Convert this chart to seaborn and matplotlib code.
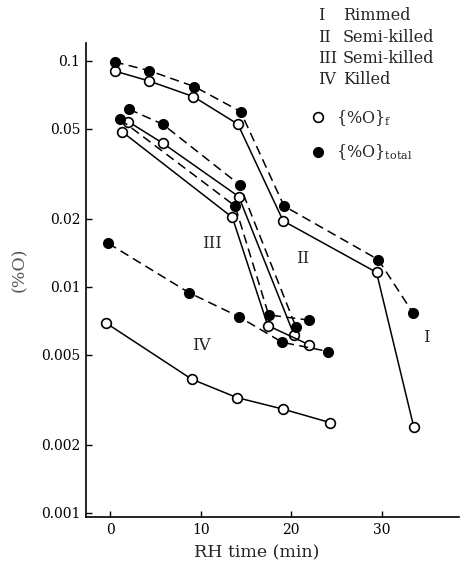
import matplotlib
matplotlib.use("Agg")
import matplotlib.pyplot as plt
import numpy as np
import pandas as pd
import seaborn as sns
from matplotlib.lines import Line2D

# ---------------- data ----------------
I_f_t   = [0.6, 4.3, 9.2, 14.1, 19.1, 29.4, 33.5]
I_f     = [0.090, 0.0815, 0.0695, 0.0525, 0.0196, 0.0116, 0.00241]
I_tot_t = [0.5, 4.3, 9.3, 14.4, 19.2, 29.6, 33.4]
I_tot   = [0.099, 0.0906, 0.077, 0.0597, 0.0228, 0.0132, 0.0077]

II_f_t   = [2.0, 5.8, 14.2, 20.3]
II_f     = [0.0539, 0.0433, 0.0251, 0.00614]
II_tot_t = [2.1, 5.8, 14.3, 20.5]
II_tot   = [0.0611, 0.0525, 0.0283, 0.00667]

III_f_t   = [1.3, 13.5, 17.4, 22.0]
III_f     = [0.0487, 0.0203, 0.00675, 0.00554]
III_tot_t = [1.1, 13.8, 17.5, 21.9]
III_tot   = [0.0552, 0.0228, 0.00752, 0.00714]

IV_f_t   = [-0.4, 9.0, 14.0, 19.1, 24.3]
IV_f     = [0.00691, 0.00391, 0.00324, 0.00288, 0.00251]
IV_tot_t = [-0.2, 8.7, 14.2, 19.0, 24.1]
IV_tot   = [0.0156, 0.00944, 0.00739, 0.00569, 0.00518]

x_ticks = [0, 10, 20, 30]
y_ticks = [0.001, 0.002, 0.005, 0.01, 0.02, 0.05, 0.1]
y_tick_labels = ["0.001", "0.002", "0.005", "0.01", "0.02", "0.05", "0.1"]

curve_labels = ["I", "II", "III", "IV"]
curve_label_t = [34.9, 21.3, 11.3, 10.1]
curve_label_v = [0.0060, 0.0133, 0.0155, 0.0055]

legend_numerals = ["I", "II", "III", "IV"]
legend_names = ["Rimmed", "Semi-killed", "Semi-killed", "Killed"]

# ---------------- style ----------------
sns.set_theme(style="ticks")
plt.rcParams["font.family"] = ["DejaVu Serif"]
plt.rcParams["mathtext.fontset"] = "dejavuserif"

W, H = 461, 566
fig = plt.figure(figsize=(W / 100, H / 100), dpi=100)
ax = fig.add_axes([86 / W, 1 - 517 / H, (459 - 86) / W, (517 - 43) / H])

series = [
    (I_f_t, I_f, "open"), (I_tot_t, I_tot, "filled"),
    (II_f_t, II_f, "open"), (II_tot_t, II_tot, "filled"),
    (III_f_t, III_f, "open"), (III_tot_t, III_tot, "filled"),
    (IV_f_t, IV_f, "open"), (IV_tot_t, IV_tot, "filled"),
]

for t, v, kind in series:
    df = pd.DataFrame({"t": t, "v": v})
    if kind == "open":
        sns.lineplot(data=df, x="t", y="v", ax=ax, sort=False, estimator=None,
                     color="black", linewidth=1.1, linestyle="-",
                     marker="o", markersize=7, markerfacecolor="white",
                     markeredgecolor="black", markeredgewidth=1.2, zorder=3)
    else:
        sns.lineplot(data=df, x="t", y="v", ax=ax, sort=False, estimator=None,
                     color="black", linewidth=1.1, linestyle=(0, (6, 3.5)),
                     marker="o", markersize=7, markerfacecolor="black",
                     markeredgecolor="black", markeredgewidth=1.0, zorder=3)

ax.set_yscale("log")
ax.set_xlim(-2.65, 38.5)
ax.set_ylim(0.00096, 0.12)
ax.set_xticks(x_ticks)
ax.set_xticklabels([str(x) for x in x_ticks])
ax.set_yticks(y_ticks)
ax.set_yticklabels(y_tick_labels)
ax.yaxis.set_minor_locator(matplotlib.ticker.NullLocator())
ax.tick_params(direction="in", length=4, width=1, labelsize=10, pad=4,
               colors="black")
ax.set_xlabel("")
ax.set_ylabel("")
for s in ["top", "right"]:
    ax.spines[s].set_visible(False)
for s in ["left", "bottom"]:
    ax.spines[s].set_linewidth(1.2)
    ax.spines[s].set_color("black")

for lab, t, v in zip(curve_labels, curve_label_t, curve_label_v):
    ax.text(t, v, lab, ha="center", va="center", fontsize=12)

# axis labels
fig.text(257 / W, 1 - 553 / H, "RH time (min)", ha="center", va="center",
         fontsize=12.5)
fig.text(20 / W, 1 - 270 / H, "(%O)", ha="center", va="center",
         rotation=90, fontsize=12.5, color="#555555")

# roman numeral legend
rows_y = [15, 37, 58, 80]
for num, name, yy in zip(legend_numerals, legend_names, rows_y):
    fig.text(318 / W, 1 - yy / H, num, ha="left", va="center", fontsize=11.5)
    fig.text(343 / W, 1 - yy / H, name, ha="left", va="center", fontsize=11.5)

handles = [
    Line2D([], [], ls="none", marker="o", markersize=7, markerfacecolor="white",
           markeredgecolor="black", markeredgewidth=1.2),
    Line2D([], [], ls="none", marker="o", markersize=7, markerfacecolor="black",
           markeredgecolor="black"),
]
labels = [r"{%O}$_{\rm f}$", r"{%O}$_{\rm total}$"]
ax.legend(handles, labels, loc="upper left",
          bbox_to_anchor=(310 / W, 1 - 108 / H), bbox_transform=fig.transFigure,
          frameon=False, fontsize=11.5, handlelength=1.0, handletextpad=0.6,
          labelspacing=0.9, borderpad=0, borderaxespad=0)

fig.savefig("out.png", dpi=100)
